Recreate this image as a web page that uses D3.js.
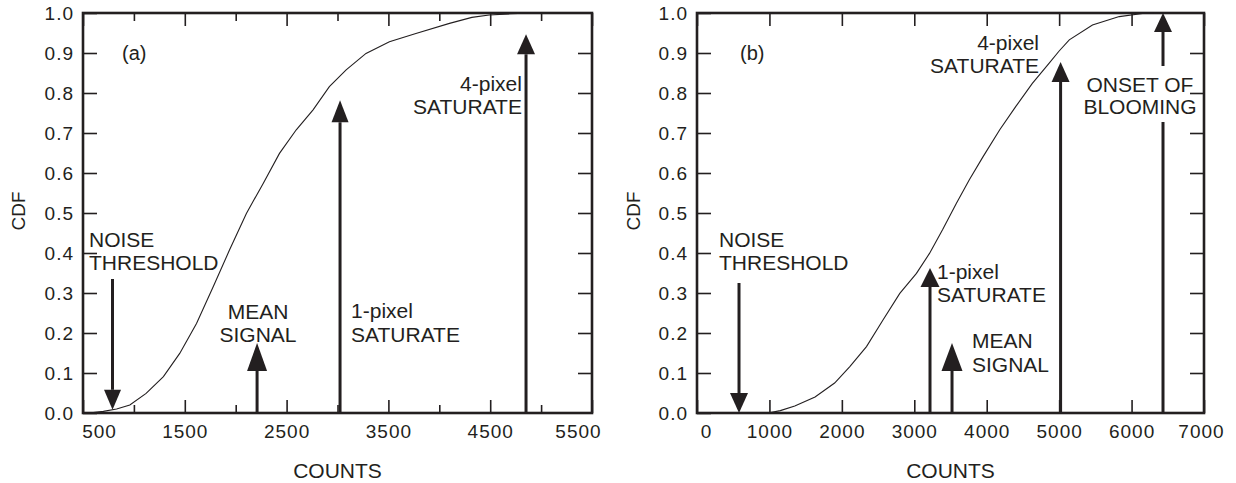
<!DOCTYPE html>
<html lang="en">
<head>
<meta charset="UTF-8">
<script src="https://cdn.jsdelivr.net/npm/d3@7"></script>
<title>CDF</title>
<style>
  body { margin: 0; background: #fff; }
  text { font-family: "Liberation Sans", Arial, sans-serif; fill: #231f20; }
</style>
</head>
<body>
<svg width="1236" height="483"></svg>
<script>
// ---- data, panel (a)
var countsA = [500, 600, 700, 830, 960, 1120, 1290, 1450, 1615, 1780, 1940, 2105, 2270, 2430, 2595, 2760, 2920, 3085, 3280, 3510, 3770, 4100, 4320, 4490, 4700, 4910, 5000];
var cdfA    = [0, 0.001, 0.004, 0.01, 0.02, 0.049, 0.091, 0.149, 0.224, 0.316, 0.408, 0.499, 0.574, 0.649, 0.708, 0.758, 0.816, 0.858, 0.899, 0.928, 0.949, 0.974, 0.989, 0.995, 0.998, 1.0, 1.0];
var xTicksA = [500, 1500, 2500, 3500, 4500, 5500];
var xMinorA = [1000, 2000, 3000, 4000, 5000];
var arrowAtA   = [790, 2210, 3025, 4852];
var arrowFromA = [0.335, 0, 0, 0];
var arrowToA   = [0.008, 0.175, 0.782, 0.947];
var labelTextA = [["(a)"], ["NOISE", "THRESHOLD"], ["MEAN", "SIGNAL"], ["1-pixel", "SATURATE"], ["4-pixel", "SATURATE"]];
var labelAtA   = [883, 559, 2219, 3133, 4812];
var labelCdfA  = [0.8825, 0.415, 0.235, 0.2375, 0.805];

// ---- data, panel (b)
var countsB = [700, 980, 1150, 1350, 1630, 1900, 2110, 2340, 2570, 2800, 3030, 3210, 3390, 3580, 3760, 3950, 4180, 4400, 4630, 4860, 5000, 5140, 5460, 5830, 6200, 6300];
var cdfB    = [0, 0, 0.006, 0.0175, 0.04, 0.075, 0.116, 0.166, 0.233, 0.299, 0.349, 0.399, 0.458, 0.524, 0.583, 0.641, 0.708, 0.766, 0.824, 0.874, 0.905, 0.933, 0.97, 0.991, 1.0, 1.0];
var xTicksB = [0, 1000, 2000, 3000, 4000, 5000, 6000, 7000];
var arrowAtB   = [580, 3217, 3521, 5020, 6434];
var arrowFromB = [0.325, 0, 0, 0, 0];
var arrowToB   = [0, 0.3625, 0.175, 0.8775, 1.0];
var arrowGapB  = [null, null, null, null, [0.7275, 0.8675]];
var labelTextB = [["(b)"], ["NOISE", "THRESHOLD"], ["1-pixel", "SATURATE"], ["MEAN", "SIGNAL"], ["4-pixel", "SATURATE"], ["ONSET OF", "BLOOMING"]];
var labelAtB   = [594, 304, 3314, 3797, 4722, 6116];
var labelCdfB  = [0.8825, 0.415, 0.335, 0.1625, 0.9075, 0.8025];

var yTicks = [0, 0.1, 0.2, 0.3, 0.4, 0.5, 0.6, 0.7, 0.8, 0.9, 1.0];

// ---- layout / style
var svg = d3.select("svg");
var top_ = 13, bottom = 413;
var ink = "#231f20";

function drawPanel(p) {
  var g = svg.append("g");
  var x = d3.scaleLinear().domain(p.domain).range(p.range);
  var y = d3.scaleLinear().domain([0, 1]).range([bottom, top_]);

  // ticks, all pointing inward
  var xb = g.append("g").attr("transform", "translate(0," + bottom + ")")
    .call(d3.axisBottom(x).tickValues(p.ticks).tickSize(-13).tickPadding(12).tickFormat(d3.format("d")));
  g.append("g").attr("transform", "translate(0," + top_ + ")")
    .call(d3.axisTop(x).tickValues(p.ticks).tickSize(-13).tickFormat(""));
  if (p.minor) {
    g.append("g").attr("transform", "translate(0," + bottom + ")")
      .call(d3.axisBottom(x).tickValues(p.minor).tickSize(-8).tickFormat(""));
    g.append("g").attr("transform", "translate(0," + top_ + ")")
      .call(d3.axisTop(x).tickValues(p.minor).tickSize(-8).tickFormat(""));
  }
  g.append("g").attr("transform", "translate(" + p.range[0] + ",0)")
    .call(d3.axisLeft(y).tickValues(yTicks).tickSize(-14).tickPadding(9).tickFormat(d3.format(".1f")));
  g.append("g").attr("transform", "translate(" + p.range[1] + ",0)")
    .call(d3.axisRight(y).tickValues(yTicks.slice(1, -1)).tickSize(-14).tickFormat(""));

  g.selectAll(".domain").remove();
  g.selectAll(".tick line").attr("stroke", ink).attr("stroke-width", 1.6);
  g.selectAll(".tick text").attr("font-size", 19).attr("letter-spacing", 1)
    .attr("fill", ink).attr("font-family", "Liberation Sans, Arial, sans-serif");
  // edge labels pulled inside the frame
  var xt = xb.selectAll(".tick text");
  d3.select(xt.nodes()[0]).attr("dx", p.edgeShift[0]);
  d3.select(xt.nodes()[xt.size() - 1]).attr("dx", p.edgeShift[1]);

  // frame
  g.append("rect")
    .attr("x", p.range[0]).attr("y", top_)
    .attr("width", p.range[1] - p.range[0]).attr("height", bottom - top_)
    .attr("fill", "none").attr("stroke", ink).attr("stroke-width", 2.6);

  // CDF curve
  var line = d3.line().x(function(d) { return x(d[0]); }).y(function(d) { return y(d[1]); });
  g.append("path")
    .attr("d", line(d3.zip(p.counts, p.cdf)))
    .attr("fill", "none").attr("stroke", ink).attr("stroke-width", 1.1);

  // arrows
  p.arrowAt.forEach(function(c, i) {
    var ax = x(c), y0 = y(p.arrowFrom[i]), tip = y(p.arrowTo[i]);
    var dir = tip < y0 ? 1 : -1;           // +1 = pointing up
    var h = p.headLen[i], w = p.headWid[i];
    var base = tip + dir * h;
    var gap = p.gap ? p.gap[i] : null;
    if (gap) {
      g.append("line").attr("x1", ax).attr("x2", ax).attr("y1", y0).attr("y2", y(gap[0]))
        .attr("stroke", ink).attr("stroke-width", 3);
      g.append("line").attr("x1", ax).attr("x2", ax).attr("y1", y(gap[1])).attr("y2", base)
        .attr("stroke", ink).attr("stroke-width", 3);
    } else {
      g.append("line").attr("x1", ax).attr("x2", ax).attr("y1", y0).attr("y2", base)
        .attr("stroke", ink).attr("stroke-width", 3);
    }
    g.append("path")
      .attr("d", "M" + ax + "," + tip + "L" + (ax - w / 2) + "," + base + "L" + (ax + w / 2) + "," + base + "Z")
      .attr("fill", ink);
  });

  // annotation labels
  p.labelText.forEach(function(lines, i) {
    var t = g.append("text")
      .attr("x", x(p.labelAt[i])).attr("y", y(p.labelCdf[i]))
      .attr("text-anchor", p.labelAnchor[i])
      .attr("font-size", i === 0 ? 20 : 21);
    lines.forEach(function(s, j) {
      t.append("tspan").attr("x", x(p.labelAt[i])).attr("dy", j === 0 ? 0 : p.lineGap[i]).text(s);
    });
  });

  // axis titles
  g.append("text")
    .attr("transform", "translate(" + p.cdfX + ",211) rotate(-90)")
    .attr("text-anchor", "middle").attr("font-size", 19).text("CDF");
  g.append("text")
    .attr("x", (p.range[0] + p.range[1]) / 2).attr("y", 478)
    .attr("text-anchor", "middle").attr("font-size", 21).text("COUNTS");
}

drawPanel({
  domain: [500, 5500], range: [83, 592],
  ticks: xTicksA, minor: xMinorA, edgeShift: [16, -14],
  counts: countsA, cdf: cdfA,
  arrowAt: arrowAtA, arrowFrom: arrowFromA, arrowTo: arrowToA,
  headLen: [20, 28, 22, 20], headWid: [17, 20, 17, 18],
  labelText: labelTextA, labelAt: labelAtA, labelCdf: labelCdfA,
  labelAnchor: ["start", "start", "middle", "start", "end"],
  lineGap: [0, 23, 23, 24, 23],
  cdfX: 25
});

drawPanel({
  domain: [0, 7000], range: [697, 1204],
  ticks: xTicksB, minor: null, edgeShift: [9, -3],
  counts: countsB, cdf: cdfB,
  arrowAt: arrowAtB, arrowFrom: arrowFromB, arrowTo: arrowToB, gap: arrowGapB,
  headLen: [20, 19, 28, 20, 19], headWid: [18, 19, 21, 18, 18],
  labelText: labelTextB, labelAt: labelAtB, labelCdf: labelCdfB,
  labelAnchor: ["start", "start", "start", "start", "end", "middle"],
  lineGap: [0, 23, 23, 24, 23, 22],
  cdfX: 640
});
</script>
</body>
</html>
